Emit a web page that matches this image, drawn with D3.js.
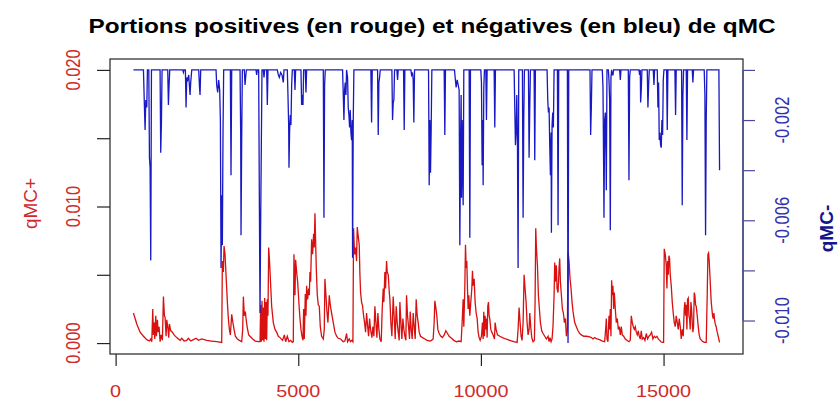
<!DOCTYPE html>
<html><head><meta charset="utf-8">
<script src="https://cdn.jsdelivr.net/npm/d3@7"></script>
<style>
html,body{margin:0;padding:0;background:#fff;}
svg{display:block;font-family:"Liberation Sans",Arial,sans-serif;}
</style></head><body>
<svg id="chart" width="840" height="402"></svg>
<script>
// ---------- data ----------
const title = "Portions positives (en rouge) et négatives (en bleu) de qMC";
const yLabelPos = "qMC+";
const yLabelNeg = "qMC-";
const xTicks = [0, 5000, 10000, 15000];
const xTickLabels = ["0", "5000", "10000", "15000"];
const posTicks = [0, 0.005, 0.010, 0.015, 0.020];
const posTickLabels = ["0.000", "", "0.010", "", "0.020"];
const negTicks = [0, -0.002, -0.004, -0.006, -0.008, -0.010];
const negTickLabels = ["", "-0.002", "", "-0.006", "", "-0.010"];
const posLimits = [0, 0.020];
const UNIT = 1e-3; // series values below are given in thousandths

// qMC+ (red) : [x, value*1000]
const qmcPlus = [[488,2.2],[534,1.8],[579,1.4],[670,0.8],[762,0.5],[853,0.25],[926,0.15],[962,0.3],[990,0.1],[1017,2.5],[1035,0.6],[1053,1.5],[1072,0.3],[1099,2.0],[1117,0.5],[1145,1.7],[1163,0.8],[1190,1.2],[1217,0.1],[1245,0.6],[1281,0.2],[1309,3.4],[1336,2.0],[1354,1.9],[1382,0.5],[1400,1.7],[1427,1.2],[1455,0.4],[1473,1.4],[1509,0.9],[1555,0.8],[1600,0.6],[1673,0.4],[1765,0.2],[1810,0.35],[1874,0.15],[1947,0.2],[1992,0.35],[2056,0.15],[2129,0.25],[2202,0.35],[2266,0.2],[2357,0.3],[2494,0.2],[2630,0.15],[2767,0.1],[2904,0.05],[2922,6.0],[2950,5.2],[2968,7.1],[2995,6.5],[3013,5.5],[3041,4.0],[3059,3.0],[3086,1.8],[3114,1.0],[3141,0.6],[3178,2.1],[3205,1.6],[3242,1.0],[3278,0.5],[3333,0.3],[3388,0.2],[3451,0.1],[3479,1.0],[3497,3.4],[3524,2.0],[3551,2.3],[3579,1.6],[3606,1.1],[3643,0.6],[3679,0.5],[3752,0.3],[3825,0.15],[3907,0.1],[3953,0.1],[3971,2.8],[3989,0.1],[4007,3.1],[4026,0.2],[4044,2.6],[4062,0.1],[4080,3.3],[4099,0.3],[4117,3.0],[4135,0.2],[4153,3.2],[4171,2.0],[4190,7.0],[4217,5.8],[4272,2.7],[4317,1.5],[4363,1.0],[4408,0.8],[4454,0.5],[4500,0.4],[4572,0.2],[4618,0.6],[4654,0.1],[4700,0.5],[4746,0.1],[4791,0.2],[4837,0.05],[4864,0.1],[4882,6.5],[4910,3.5],[4928,6.1],[4955,5.2],[4983,4.5],[5001,3.7],[5028,2.5],[5047,1.8],[5074,1.0],[5101,0.5],[5129,0.2],[5147,2.5],[5165,0.3],[5192,3.6],[5211,2.0],[5229,4.2],[5256,3.2],[5284,4.0],[5302,3.5],[5320,5.2],[5338,4.5],[5366,7.6],[5393,6.5],[5420,8.0],[5438,7.0],[5457,9.5],[5475,7.5],[5493,5.5],[5521,3.5],[5548,2.8],[5575,2.7],[5603,1.2],[5639,0.5],[5685,0.3],[5712,1.0],[5730,4.7],[5758,3.5],[5785,2.3],[5812,1.5],[5849,3.5],[5876,2.8],[5913,2.2],[5958,1.5],[6004,0.8],[6049,0.5],[6095,0.35],[6159,0.3],[6232,0.1],[6277,0.15],[6323,0.7],[6350,0.1],[6396,0.3],[6432,0.1],[6469,0.2],[6496,0.1],[6514,8.4],[6542,6.5],[6569,7.0],[6596,6.0],[6615,8.5],[6642,7.8],[6669,7.2],[6688,5.0],[6706,3.7],[6733,3.0],[6761,2.7],[6788,2.0],[6815,1.5],[6843,0.8],[6870,2.2],[6897,1.3],[6925,0.5],[6952,1.8],[6979,1.0],[7016,0.4],[7043,1.2],[7070,0.5],[7098,2.7],[7125,1.5],[7153,0.4],[7180,2.2],[7207,1.0],[7235,0.3],[7271,0.1],[7298,2.5],[7326,4.0],[7344,3.0],[7371,5.2],[7390,4.0],[7417,6.0],[7435,5.2],[7463,5.0],[7490,3.8],[7508,3.2],[7535,1.5],[7563,0.5],[7599,3.4],[7627,1.8],[7654,0.3],[7681,2.7],[7708,1.5],[7736,0.8],[7763,0.2],[7782,3.0],[7809,1.5],[7836,0.3],[7864,1.8],[7891,1.0],[7918,0.5],[7946,0.2],[7964,3.5],[7991,2.0],[8019,1.2],[8046,0.3],[8064,2.3],[8092,1.0],[8119,0.3],[8146,2.2],[8174,1.2],[8201,0.3],[8228,3.2],[8256,2.0],[8283,1.5],[8310,0.8],[8347,0.5],[8402,0.4],[8465,0.3],[8529,0.2],[8602,0.15],[8648,0.2],[8693,0.3],[8720,1.5],[8739,3.1],[8766,2.6],[8793,2.0],[8821,1.0],[8857,0.7],[8903,0.5],[8948,0.4],[8994,0.6],[9040,0.9],[9085,0.7],[9131,0.5],[9195,0.35],[9258,0.2],[9331,0.1],[9404,0.15],[9459,0.1],[9486,1.5],[9514,3.2],[9532,1.2],[9559,4.0],[9578,7.2],[9596,5.5],[9614,6.0],[9632,4.0],[9650,2.5],[9669,3.5],[9696,2.0],[9723,3.0],[9751,4.0],[9769,5.3],[9787,4.2],[9815,4.7],[9842,3.0],[9869,2.2],[9897,1.8],[9924,0.8],[9951,0.4],[9979,0.2],[10015,0.5],[10042,1.5],[10061,0.3],[10079,2.3],[10097,0.5],[10115,2.0],[10134,1.0],[10152,1.8],[10170,0.4],[10188,2.7],[10207,3.0],[10225,2.0],[10243,1.8],[10270,1.0],[10298,0.8],[10334,0.6],[10371,0.3],[10389,1.5],[10416,1.0],[10453,0.6],[10517,0.5],[10590,0.4],[10681,0.3],[10790,0.2],[10900,0.1],[10991,0.05],[11018,1.0],[11045,2.6],[11073,1.5],[11100,0.5],[11127,0.2],[11155,1.5],[11182,5.0],[11209,4.0],[11237,3.0],[11264,1.5],[11291,0.6],[11319,1.0],[11337,2.2],[11364,1.2],[11392,0.4],[11428,0.1],[11465,0.2],[11483,3.0],[11501,8.4],[11519,7.0],[11547,5.7],[11574,3.5],[11601,2.5],[11629,1.5],[11665,0.9],[11702,0.7],[11747,0.5],[11793,0.3],[11839,0.5],[11866,0.1],[11893,0.4],[11921,0.1],[11948,0.3],[11975,1.3],[12003,3.5],[12021,5.9],[12039,4.5],[12066,5.7],[12084,4.0],[12112,3.7],[12139,5.5],[12157,6.2],[12176,4.5],[12203,3.5],[12230,2.5],[12258,2.2],[12285,1.5],[12312,1.8],[12340,0.5],[12367,1.0],[12385,6.7],[12413,6.0],[12440,4.7],[12467,4.0],[12495,3.0],[12522,2.3],[12568,1.5],[12613,1.2],[12659,0.9],[12705,0.7],[12750,0.6],[12814,0.5],[12887,0.5],[12978,0.45],[13023,0.4],[13068,0.3],[13114,0.4],[13178,0.3],[13250,0.25],[13323,0.15],[13387,0.1],[13415,1.0],[13433,1.8],[13451,0.3],[13478,0.1],[13506,2.0],[13524,1.0],[13542,2.5],[13560,0.5],[13579,4.6],[13597,3.5],[13615,4.2],[13633,2.5],[13652,3.7],[13679,2.5],[13706,1.5],[13734,1.8],[13761,1.0],[13788,1.2],[13816,0.6],[13843,1.2],[13870,0.6],[13907,0.5],[13953,0.3],[13998,0.2],[14053,0.1],[14089,0.2],[14117,2.0],[14144,1.5],[14171,1.2],[14199,1.0],[14226,1.2],[14253,0.8],[14281,0.6],[14308,0.9],[14335,0.5],[14363,0.3],[14390,0.9],[14417,0.3],[14454,0.4],[14490,0.2],[14527,0.7],[14563,0.3],[14600,0.5],[14636,0.6],[14673,0.8],[14709,0.3],[14746,0.5],[14782,0.4],[14819,0.5],[14855,0.3],[14892,0.2],[14928,0.1],[14965,0.05],[15001,0.05],[15019,6.9],[15047,6.5],[15074,5.7],[15092,4.0],[15110,6.0],[15129,5.0],[15147,6.4],[15165,6.2],[15183,5.0],[15211,4.2],[15238,3.0],[15265,2.2],[15293,1.5],[15320,1.2],[15347,2.0],[15375,1.5],[15402,1.0],[15429,1.8],[15457,1.2],[15484,0.3],[15511,1.0],[15539,0.5],[15566,2.5],[15584,3.0],[15603,2.0],[15621,2.8],[15639,1.0],[15657,3.2],[15676,3.3],[15694,2.0],[15712,1.8],[15730,1.0],[15749,3.0],[15767,2.5],[15785,1.5],[15803,0.8],[15821,1.2],[15840,3.7],[15858,3.5],[15876,2.8],[15894,2.7],[15922,2.0],[15949,1.2],[15976,0.6],[16004,0.3],[16040,0.2],[16077,0.1],[16123,0.05],[16168,0.05],[16195,3.5],[16214,6.5],[16232,6.6],[16250,6.0],[16268,5.0],[16286,4.0],[16305,3.0],[16323,2.5],[16341,2.0],[16359,1.8],[16378,2.2],[16396,1.7],[16414,1.4],[16441,1.2],[16469,0.8],[16496,0.5],[16533,0.05]];

// qMC- (blue) : [x, value*1000]
const qmcMinus = [[488,0],[762,0],[789,-1.5],[807,-2.4],[826,-1.2],[853,-1.5],[871,0],[908,0],[926,-3.5],[944,-3.9],[962,-7.6],[981,0],[1217,0],[1235,-3.3],[1254,-2.1],[1272,0],[1427,0],[1445,-1.4],[1464,-0.6],[1482,0],[1838,0],[1856,-0.1],[1874,0],[1910,0],[1928,-1.5],[1947,-0.3],[1974,-0.4],[2001,-0.2],[2038,-1.0],[2056,-0.5],[2084,0],[2275,0],[2293,-0.6],[2311,-1.0],[2330,0],[2749,0],[2767,-0.6],[2794,-0.9],[2822,-0.4],[2849,-0.8],[2868,-2.0],[2886,-7.9],[2904,-5.0],[2922,-7.0],[2940,-2.5],[2958,0],[3141,0],[3159,-4.2],[3178,0],[3406,0],[3424,-2.6],[3433,-6.6],[3451,-2.8],[3469,0],[3524,0],[3542,-0.6],[3560,-0.3],[3579,0],[3843,0],[3861,-0.2],[3880,0],[3916,0],[3934,-5.0],[3953,-9.7],[3971,-6.0],[3989,-3.0],[4007,0],[4044,0],[4062,-0.3],[4080,0],[4135,0],[4153,-1.4],[4171,0],[4426,0],[4454,-0.2],[4481,-0.3],[4518,-0.1],[4554,-0.2],[4591,-0.5],[4609,0],[4700,0],[4718,-1.0],[4737,-2.2],[4746,-3.9],[4764,-2.4],[4782,-1.8],[4800,-2.2],[4819,-0.6],[4837,0],[4892,0],[4910,-0.8],[4928,0],[5074,0],[5092,-1.4],[5110,-1.0],[5129,-1.4],[5147,0],[5192,0],[5211,-0.9],[5229,0],[5685,0],[5703,-5.9],[5721,-0.6],[5740,0],[6213,0],[6232,-1.0],[6250,-2.0],[6268,-0.8],[6286,-0.5],[6305,-1.0],[6323,0],[6350,-0.3],[6368,-1.5],[6387,-1.8],[6405,-2.3],[6423,-1.6],[6441,-2.5],[6460,-2.8],[6478,-2.0],[6487,-7.5],[6505,-2.0],[6523,0],[6988,0],[7007,-2.1],[7025,0],[7171,0],[7189,-2.6],[7207,-0.5],[7226,-0.3],[7244,0],[7563,0],[7581,-2.0],[7599,-1.3],[7618,-1.2],[7636,0],[7700,0],[7718,-0.4],[7736,0],[7882,0],[7900,-2.4],[7918,0],[8083,0],[8101,-0.2],[8128,-0.1],[8146,-0.4],[8164,-2.1],[8183,0],[8566,0],[8584,-4.6],[8602,-2.0],[8620,-4.1],[8638,-2.4],[8657,0],[8994,0],[9012,-2.6],[9030,0],[9277,0],[9295,-0.3],[9322,-0.7],[9350,-0.4],[9377,-0.6],[9404,-0.8],[9423,-7.0],[9441,-3.0],[9459,-1.0],[9468,-5.1],[9486,-2.0],[9514,-5.4],[9532,0],[9678,0],[9696,-6.7],[9714,0],[9997,0],[10015,-0.5],[10033,-3.8],[10051,-2.0],[10061,-4.6],[10079,-0.7],[10097,0],[10134,0],[10152,-2.0],[10170,0],[10362,0],[10380,-2.3],[10398,0],[10909,0],[10927,-1.5],[10945,-3.0],[10963,-2.5],[10982,-1.0],[11000,-2.8],[11018,-7.9],[11036,0],[11136,0],[11155,-5.9],[11173,-2.0],[11191,0],[11301,0],[11319,-3.5],[11337,-1.5],[11355,0],[11456,0],[11474,-3.6],[11492,0],[11811,0],[11830,-1.2],[11848,-1.7],[11866,-1.5],[11884,-3.0],[11903,-4.2],[11921,-2.5],[11930,-6.5],[11948,-2.2],[11966,-1.7],[11984,-2.3],[12003,0],[12094,0],[12112,-6.2],[12130,0],[12367,0],[12385,-10.9],[12404,0],[12986,0],[13004,-2.6],[13023,-1.5],[13041,0],[13323,0],[13342,-0.7],[13360,-4.0],[13369,-5.9],[13387,-2.0],[13406,-1.7],[13424,-3.5],[13433,-4.8],[13451,0],[13488,0],[13506,-0.4],[13524,-1.2],[13542,-6.4],[13560,-0.3],[13579,0],[13597,-0.2],[13615,-0.2],[13633,0],[13798,0],[13816,-0.4],[13834,0],[14035,0],[14053,-4.4],[14071,-0.3],[14089,0],[14326,0],[14344,-0.2],[14363,0],[14372,-1.3],[14390,-0.8],[14408,0],[14554,0],[14572,-1.5],[14591,-0.6],[14609,0],[14718,0],[14737,-0.6],[14755,0],[14828,0],[14846,-1.5],[14864,-0.5],[14882,-2.8],[14901,-2.5],[14919,-3.0],[14937,-3.1],[14955,-2.0],[14974,-2.6],[14992,-0.4],[15010,0],[15083,0],[15101,-2.4],[15119,0],[15311,0],[15329,-1.8],[15347,0],[15493,0],[15511,-5.4],[15530,-1.0],[15548,0],[15621,0],[15639,-2.8],[15657,0],[15785,0],[15803,-0.5],[15821,0],[16113,0],[16132,-1.0],[16150,-6.6],[16168,-2.0],[16186,0],[16515,0],[16533,-4.0]];

// ---------- layout ----------
const W = 840, H = 402;
const L = 110, R = 743, T = 59, B = 354;
const SX = 1.2;           // horizontal stretch of the original picture
const AXIS_FS = 16.5, LAB_FS = 19, TITLE_FS = 20.3;
const redCol = "#d81010", blueCol = "#1818c4";
const redText = "#d02a2a", blueText = "#3232b0";

const svg = d3.select("#chart");
svg.append("rect").attr("width", W).attr("height", H).attr("fill", "#fff");

const allX = qmcPlus.map(d => d[0]).concat(qmcMinus.map(d => d[0]));
const [xa, xb] = d3.extent(allX);
const xp = (xb - xa) * 0.04;
const x = d3.scaleLinear().domain([xa - xp, xb + xp]).range([L, R]);

const pp = (posLimits[1] - posLimits[0]) * 0.04;
const yPos = d3.scaleLinear().domain([posLimits[0] - pp, posLimits[1] + pp]).range([B, T]);

const nMin = d3.min(qmcMinus, d => d[1]) * UNIT, nMax = d3.max(qmcMinus, d => d[1]) * UNIT;
const np = (nMax - nMin) * 0.04;
const yNeg = d3.scaleLinear().domain([nMin - np, nMax + np]).range([B, T]);

// ---------- series ----------
const linePos = d3.line().x(d => x(d[0])).y(d => yPos(d[1] * UNIT));
const lineNeg = d3.line().x(d => x(d[0])).y(d => yNeg(d[1] * UNIT));

svg.append("path").datum(qmcPlus).attr("d", linePos)
  .attr("fill", "none").attr("stroke", redCol).attr("stroke-width", 1.3).attr("stroke-linejoin", "miter");
svg.append("path").datum(qmcMinus).attr("d", lineNeg)
  .attr("fill", "none").attr("stroke", blueCol).attr("stroke-width", 1.3).attr("stroke-linejoin", "miter");

// ---------- box ----------
svg.append("rect").attr("x", L).attr("y", T).attr("width", R - L).attr("height", B - T)
  .attr("fill", "none").attr("stroke", "#222").attr("stroke-width", 1.2);

// ---------- axes ----------
const gx = svg.append("g").attr("transform", `translate(0,${B})`)
  .call(d3.axisBottom(x).tickValues(xTicks).tickSize(12).tickSizeOuter(0).tickFormat(""));
gx.select(".domain").remove();
gx.selectAll(".tick line").attr("stroke", "#222").attr("stroke-width", 1.2);

const gl = svg.append("g").attr("transform", `translate(${L},0)`)
  .call(d3.axisLeft(yPos).tickValues(posTicks).tickSize(13).tickSizeOuter(0).tickFormat(""));
gl.select(".domain").remove();
gl.selectAll(".tick line").attr("stroke", "#222").attr("stroke-width", 1.2);

const gr = svg.append("g").attr("transform", `translate(${R},0)`)
  .call(d3.axisRight(yNeg).tickValues(negTicks).tickSize(12).tickSizeOuter(0).tickFormat(""));
gr.select(".domain").remove();
gr.selectAll(".tick line").attr("stroke", "#4a4a9c").attr("stroke-width", 1.2);
svg.append("line").attr("x1", R).attr("x2", R)
  .attr("y1", yNeg(d3.max(negTicks))).attr("y2", yNeg(d3.min(negTicks)))
  .attr("stroke", "#4a4a9c").attr("stroke-width", 1.3);

// ---------- text helpers ----------
function hText(px, py, str, fs, fill, weight, sx) {
  svg.append("text").text(str)
    .attr("transform", `translate(${px},${py}) scale(${sx || SX},1)`)
    .attr("text-anchor", "middle").attr("font-size", fs)
    .attr("font-weight", weight || "normal").attr("fill", fill);
}
function vText(px, py, str, fs, fill, weight, sx) {
  svg.append("text").text(str)
    .attr("transform", `translate(${px},${py}) rotate(-90) scale(1,${sx || SX})`)
    .attr("text-anchor", "middle").attr("font-size", fs)
    .attr("font-weight", weight || "normal").attr("fill", fill);
}

xTicks.forEach((v, i) => hText(x(v), 397, xTickLabels[i], AXIS_FS, redText));
posTicks.forEach((v, i) => { if (posTickLabels[i]) vText(79.5, yPos(v), posTickLabels[i], AXIS_FS, redText); });
negTicks.forEach((v, i) => { if (negTickLabels[i]) vText(789, yNeg(v), negTickLabels[i], AXIS_FS, blueText); });

vText(37, (T + B) / 2 - 3, yLabelPos, LAB_FS, redText, "normal", 1.0);
vText(833, (T + B) / 2 + 22, yLabelNeg, LAB_FS, "#14148e", "bold", 1.0);

hText(432, 33, title, TITLE_FS, "#000", "bold");
</script>
</body></html>
